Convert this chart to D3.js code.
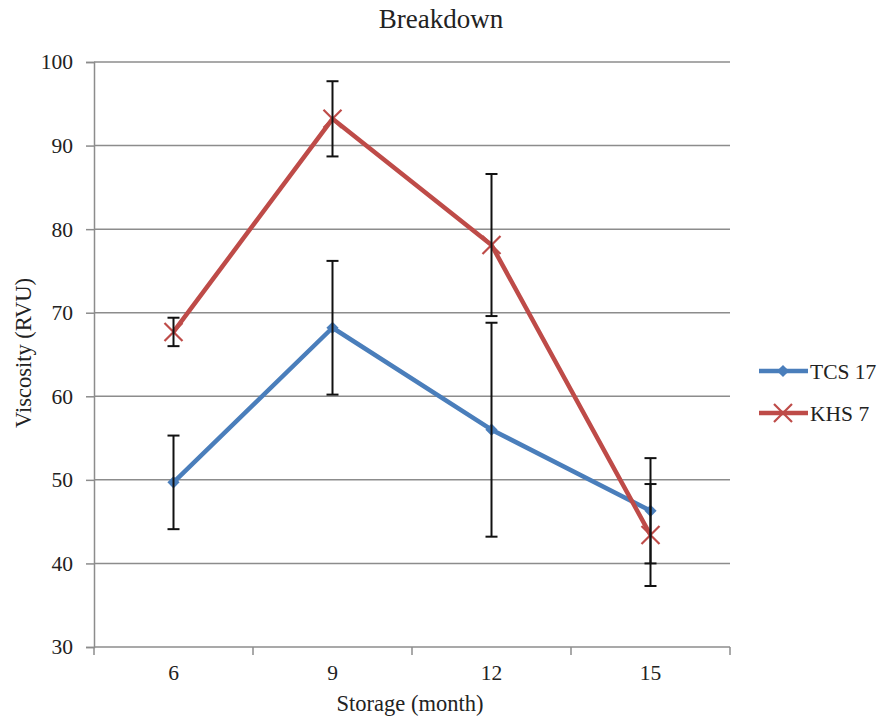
<!DOCTYPE html>
<html>
<head>
<meta charset="utf-8">
<script src="https://cdn.jsdelivr.net/npm/d3@7/dist/d3.min.js"></script>
<style>
  body { margin: 0; background: #fff; }
  svg text { font-family: "Liberation Serif", "DejaVu Serif", serif; fill: #222; }
</style>
</head>
<body>
<svg id="chart" width="883" height="721"></svg>
<script>
// Storage months (categories)
const months = ["6", "9", "12", "15"];
// Breakdown viscosity means and standard errors
const tcsValues = [49.7, 68.2, 56.0, 46.3];
const tcsErrors = [5.6, 8.0, 12.8, 6.3];
const khsValues = [67.7, 93.2, 78.1, 43.4];
const khsErrors = [1.7, 4.5, 8.5, 6.1];
const yTicks = [30, 40, 50, 60, 70, 80, 90, 100];

const seriesList = [
  { name: "TCS 17", values: tcsValues, errors: tcsErrors, color: "#4A7EBB", marker: "diamond" },
  { name: "KHS 7", values: khsValues, errors: khsErrors, color: "#BE4B48", marker: "cross" }
];

const FONT = "'Liberation Serif', 'DejaVu Serif', serif";
const svg = d3.select("#chart");
const margin = { left: 94, right: 730, top: 62, bottom: 647 };

const x = d3.scaleBand().domain(months).range([margin.left, margin.right]);
const y = d3.scaleLinear().domain([30, 100]).range([margin.bottom, margin.top]);
const cx = d => x(d) + x.bandwidth() / 2;

// Horizontal gridlines
svg.append("g").selectAll("line").data(yTicks.slice(1)).join("line")
  .attr("x1", margin.left).attr("x2", margin.right)
  .attr("y1", d => y(d)).attr("y2", d => y(d))
  .attr("stroke", "#8c8c8c").attr("stroke-width", 1.5);

// Y axis
const yAxis = svg.append("g").attr("transform", `translate(${margin.left},0)`)
  .call(d3.axisLeft(y).tickValues(yTicks).tickSize(8).tickPadding(13));
yAxis.attr("font-family", FONT);
yAxis.select(".domain").attr("stroke", "#8c8c8c").attr("stroke-width", 1.5);
yAxis.selectAll(".tick line").attr("stroke", "#8c8c8c").attr("stroke-width", 1.5);
yAxis.selectAll(".tick text").attr("font-size", 21.5).attr("fill", "#222")
  .attr("font-family", FONT);

// X axis: ticks sit between categories
const xAxisG = svg.append("g");
xAxisG.append("line")
  .attr("x1", margin.left).attr("x2", margin.right)
  .attr("y1", y(30)).attr("y2", y(30))
  .attr("stroke", "#8c8c8c").attr("stroke-width", 1.5);
const boundaries = months.map(m => x(m)).concat([x(months[months.length - 1]) + x.bandwidth()]);
xAxisG.selectAll("line.tk").data(boundaries).join("line").attr("class", "tk")
  .attr("x1", d => d).attr("x2", d => d)
  .attr("y1", y(30)).attr("y2", y(30) + 8)
  .attr("stroke", "#8c8c8c").attr("stroke-width", 1.5);
xAxisG.selectAll("text").data(months).join("text")
  .attr("x", d => cx(d)).attr("y", y(30) + 33)
  .attr("text-anchor", "middle").attr("font-size", 21.5).attr("font-family", FONT)
  .text(d => d);

// Titles
svg.append("text").attr("x", 441).attr("y", 28).attr("text-anchor", "middle")
  .attr("font-size", 27).attr("font-family", FONT).text("Breakdown");
svg.append("text").attr("x", 410).attr("y", 711).attr("text-anchor", "middle")
  .attr("font-size", 22.5).attr("font-family", FONT).text("Storage (month)");
svg.append("text").attr("transform", "translate(31,353) rotate(-90)")
  .attr("text-anchor", "middle").attr("font-size", 22.5).attr("font-family", FONT)
  .text("Viscosity (RVU)");

// Series lines
const line = d3.line().x((d, i) => cx(months[i])).y(d => y(d));
seriesList.forEach(s => {
  svg.append("path").datum(s.values)
    .attr("d", line).attr("fill", "none")
    .attr("stroke", s.color).attr("stroke-width", 4.5)
    .attr("stroke-linejoin", "round");
});

// Markers
const diamond = d3.symbol().type(d3.symbolDiamond2).size(95);
function drawMarker(g, s, px, py) {
  if (s.marker === "diamond") {
    g.append("path").attr("d", diamond()).attr("transform", `translate(${px},${py})`)
      .attr("fill", s.color);
  } else {
    const r = 9;
    g.append("path")
      .attr("d", `M${px - r},${py - r}L${px + r},${py + r}M${px - r},${py + r}L${px + r},${py - r}`)
      .attr("stroke", s.color).attr("stroke-width", 2.2).attr("fill", "none");
  }
}
seriesList.forEach(s => {
  const g = svg.append("g");
  s.values.forEach((v, i) => drawMarker(g, s, cx(months[i]), y(v)));
});

// Error bars
const cap = 6;
seriesList.forEach(s => {
  const g = svg.append("g").attr("stroke", "#111").attr("stroke-width", 2);
  s.values.forEach((v, i) => {
    const px = cx(months[i]);
    const lo = y(v - s.errors[i]), hi = y(v + s.errors[i]);
    g.append("line").attr("x1", px).attr("x2", px).attr("y1", lo).attr("y2", hi);
    g.append("line").attr("x1", px - cap).attr("x2", px + cap).attr("y1", lo).attr("y2", lo);
    g.append("line").attr("x1", px - cap).attr("x2", px + cap).attr("y1", hi).attr("y2", hi);
  });
});

// Legend
const legend = svg.append("g");
seriesList.forEach((s, i) => {
  const ly = 371 + i * 42;
  legend.append("line").attr("x1", 759).attr("x2", 808).attr("y1", ly).attr("y2", ly)
    .attr("stroke", s.color).attr("stroke-width", 4.5);
  drawMarker(legend, s, 783, ly);
  legend.append("text").attr("x", 810).attr("y", ly + 8).attr("font-size", 21.5)
    .attr("font-family", FONT).text(s.name);
});
</script>
</body>
</html>
